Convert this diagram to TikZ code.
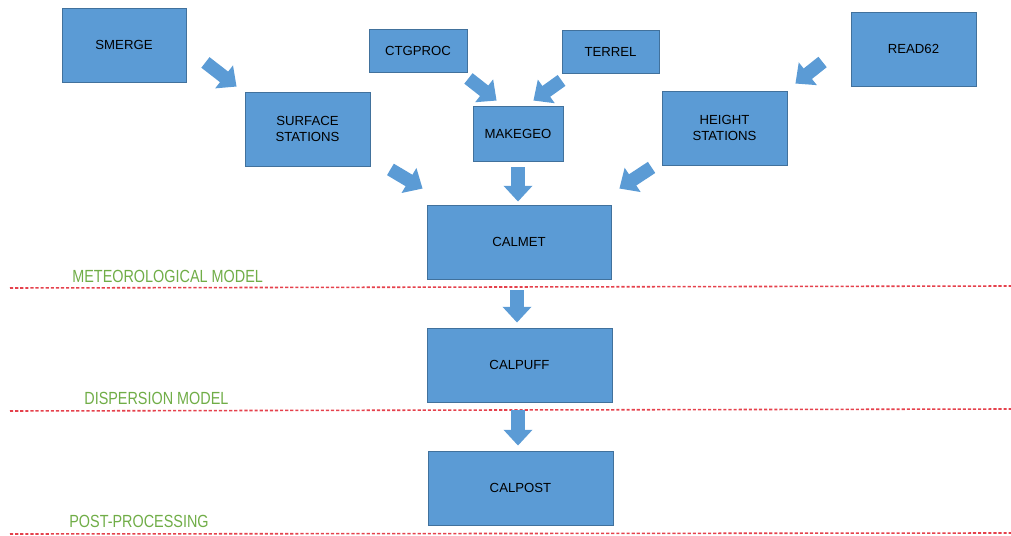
\documentclass[tikz,border=0pt]{standalone}
\usepackage{fontspec}
\setmainfont{Liberation Sans}
\newfontfamily\narrowsans[FakeStretch=0.82]{Liberation Sans}
\usetikzlibrary{arrows.meta}
\definecolor{boxfill}{HTML}{5B9BD5}
\definecolor{boxline}{HTML}{41719C}
\definecolor{layergreen}{HTML}{70AD47}
\definecolor{sepred}{HTML}{E5414C}

\begin{document}
\begin{tikzpicture}[x=0.02cm, y=-0.02cm,
    prog/.style={draw=boxline, line width=0.5pt, fill=boxfill, align=center,
      minimum width=2.5cm, minimum height=1.48cm, inner sep=1pt,
      font=\fontsize{7.5}{9}\selectfont},
    flow/.style={draw=boxfill, line width=7.6pt, -{Triangle[width=16pt,length=9pt]}},
    layer/.style={text=layergreen, inner sep=0pt, anchor=west,
      font=\narrowsans\fontsize{10}{12}\selectfont},
    layerline/.style={draw=sepred, line width=0.9pt, dash pattern=on 1.8pt off 1.1pt}]
  \useasboundingbox (0,0) rectangle (1011,536);
  % inputs
  \node[prog, minimum width=2.48cm] (smerge) at (124, 45) {SMERGE};
  \node[prog] (surface) at (307.5, 129) {SURFACE\\STATIONS};
  \node[prog, minimum width=1.96cm, minimum height=0.86cm] (ctgproc) at (418, 50.5) {CTGPROC};
  \node[prog, minimum width=1.94cm, minimum height=0.86cm] (terrel) at (610.5, 51.5) {TERREL};
  \node[prog, minimum width=1.8cm, minimum height=1.1cm] (makegeo) at (518, 133.5) {MAKEGEO};
  \node[prog] (read62) at (913.5, 49) {READ62};
  \node[prog] (height) at (724.5, 128) {HEIGHT\\STATIONS};
  % models
  \node[prog, minimum width=3.68cm] (calmet) at (519, 242) {CALMET};
  \node[prog, minimum width=3.7cm] (calpuff) at (519.5, 365) {CALPUFF};
  \node[prog, minimum width=3.7cm] (calpost) at (520.5, 488) {CALPOST};
  % layers
  \node[layer] (met) at (72, 276) {METEOROLOGICAL MODEL};
  \node[layer] (disp) at (84, 398) {DISPERSION MODEL};
  \node[layer] (post) at (69, 521) {POST-PROCESSING};
  \draw[layerline] (10, 288) -- (1011, 286);
  \draw[layerline] (10, 411) -- (1011, 409);
  \draw[layerline] (10, 534) -- (1011, 533);
  % flows
  \draw[flow] ([shift={(19,-20)}]smerge.south east) -- ([shift={(-8,-5)}]surface.north west);
  \draw[flow] ([shift={(1,6)}]ctgproc.south east) -- ([shift={(24,-5)}]makegeo.north west);
  \draw[flow] ([shift={(0,7)}]terrel.south west) -- ([shift={(-30,-5)}]makegeo.north east);
  \draw[flow] ([shift={(-28,13)}]read62.west) -- ([shift={(8,-7)}]height.north east);
  \draw[flow] ([shift={(20,3)}]surface.south east) -- ([shift={(-4,-16)}]calmet.north west);
  \draw[flow] ([shift={(0,6)}]makegeo.south) -- ([shift={(-1,-3)}]calmet.north);
  \draw[flow] ([shift={(-10,2)}]height.south west) -- ([shift={(8,-16)}]calmet.north east);
  \draw[flow] ([shift={(-2,11)}]calmet.south) -- ([shift={(-2.5,-5)}]calpuff.north);
  \draw[flow] ([shift={(-1.5,8)}]calpuff.south) -- ([shift={(-2.5,-5)}]calpost.north);
\end{tikzpicture}
\end{document}
